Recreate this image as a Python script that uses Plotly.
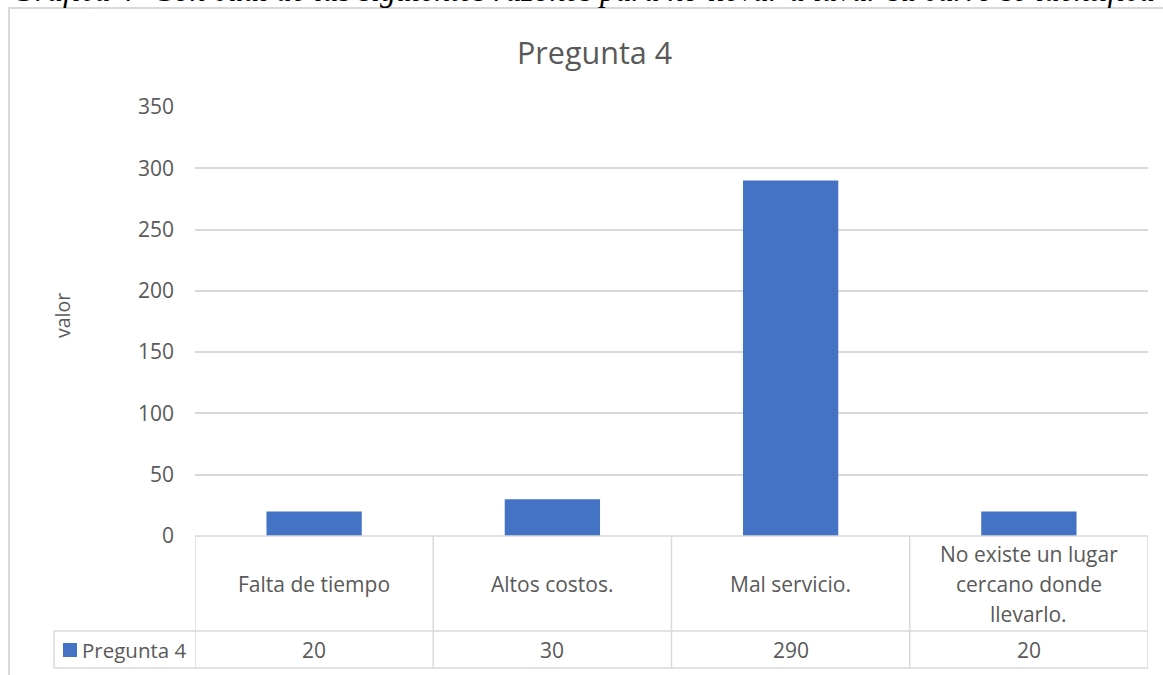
import plotly.graph_objects as go

# Chart data
categories = ["Falta de tiempo", "Altos costos.", "Mal servicio.",
              "No existe un lugar<br>cercano donde<br>llevarlo."]
values = [20, 30, 290, 20]
series_name = "Pregunta 4"
chart_title = "Pregunta 4"
y_axis_title = "valor"
y_ticks = [0, 50, 100, 150, 200, 250, 300, 350]
caption = "Gráfica 4- Con cuál de las siguientes razones para no llevar a lavar su carro se identifica"

BAR_COLOR = "#4472C4"
GRID = "#d9d9d9"
TEXT = "#595959"
FONT = "Open Sans"

W, H = 1163, 675
L, R, T, B = 195, 1148, 107, 536


def px_x(p):
    return (p - L) / (R - L)


def px_y(p):
    return (B - p) / (B - T)


fig = go.Figure(go.Bar(
    x=list(range(len(categories))), y=values, name=series_name,
    marker=dict(color=BAR_COLOR, line=dict(width=0)),
    showlegend=False,
))

shapes = []
annotations = []

# outer chart border
shapes.append(dict(type="rect", xref="paper", yref="paper",
                   x0=px_x(9), x1=px_x(1180), y0=px_y(8), y1=px_y(700),
                   line=dict(color=GRID, width=2), fillcolor="rgba(0,0,0,0)", layer="below"))

# data table grid
row1, row2 = 631, 668
shapes.append(dict(type="line", xref="paper", yref="paper",
                   x0=0, x1=1, y0=px_y(B), y1=px_y(B), line=dict(color=GRID, width=1.5)))
for yy in (row1, row2):
    shapes.append(dict(type="line", xref="paper", yref="paper",
                       x0=px_x(54), x1=1, y0=px_y(yy), y1=px_y(yy),
                       line=dict(color=GRID, width=1.5)))
for i in range(len(categories) + 1):
    shapes.append(dict(type="line", xref="x", yref="paper",
                       x0=i - 0.5, x1=i - 0.5, y0=px_y(B), y1=px_y(row2),
                       line=dict(color=GRID, width=1.5)))
shapes.append(dict(type="line", xref="paper", yref="paper",
                   x0=px_x(54), x1=px_x(54), y0=px_y(row1), y1=px_y(row2),
                   line=dict(color=GRID, width=1.5)))

# legend key in table
shapes.append(dict(type="rect", xref="paper", yref="paper",
                   x0=px_x(63), x1=px_x(77), y0=px_y(643), y1=px_y(657),
                   fillcolor=BAR_COLOR, line=dict(width=0)))
annotations.append(dict(text=series_name, xref="paper", yref="paper",
                        x=px_x(80), y=px_y(650), xanchor="left", yanchor="middle",
                        showarrow=False, font=dict(family=FONT, size=20.5, color=TEXT)))

# category cells and value cells
line_gap = 30
for i, (cat, val) in enumerate(zip(categories, values)):
    lines = cat.split("<br>")
    mid = 584
    start = mid - line_gap * (len(lines) - 1) / 2
    for k, ln in enumerate(lines):
        annotations.append(dict(text=ln, xref="x", yref="paper", x=i,
                                y=px_y(start + k * line_gap), xanchor="center",
                                yanchor="middle", showarrow=False,
                                font=dict(family=FONT, size=21, color=TEXT)))
    annotations.append(dict(text=str(val), xref="x", yref="paper", x=i,
                            y=px_y(650), xanchor="center", yanchor="middle",
                            showarrow=False, font=dict(family=FONT, size=21, color=TEXT)))

# chart title
annotations.append(dict(text=chart_title, xref="paper", yref="paper",
                        x=px_x(594), y=px_y(52), xanchor="center", yanchor="middle",
                        showarrow=False, font=dict(family=FONT, size=30.5, color=TEXT)))

# y axis title
annotations.append(dict(text=y_axis_title, xref="paper", yref="paper",
                        x=px_x(62), y=px_y(316), xanchor="center", yanchor="middle",
                        textangle=-90, showarrow=False,
                        font=dict(family=FONT, size=19.5, color=TEXT)))

# caption above the chart
annotations.append(dict(text=caption, xref="paper", yref="paper",
                        x=px_x(10), y=px_y(10.5), xanchor="left", yanchor="bottom",
                        showarrow=False,
                        font=dict(family="Liberation Serif", size=31.7, color="black",
                                  style="italic")))

fig.update_layout(
    width=W, height=H,
    margin=dict(l=L, r=W - R, t=T, b=H - B),
    paper_bgcolor="white", plot_bgcolor="white",
    bargap=0.6,
    shapes=shapes, annotations=annotations,
    xaxis=dict(range=[-0.5, len(categories) - 0.5], showticklabels=False,
               showgrid=False, zeroline=False, showline=False, fixedrange=True),
    yaxis=dict(range=[0, 350], tickvals=y_ticks, showgrid=True, gridcolor=GRID,
               gridwidth=1.5, zeroline=False, showline=False,
               tickfont=dict(family=FONT, size=21, color=TEXT),
               ticklabelstandoff=20, fixedrange=True),
)

fig.write_html("out.html")
